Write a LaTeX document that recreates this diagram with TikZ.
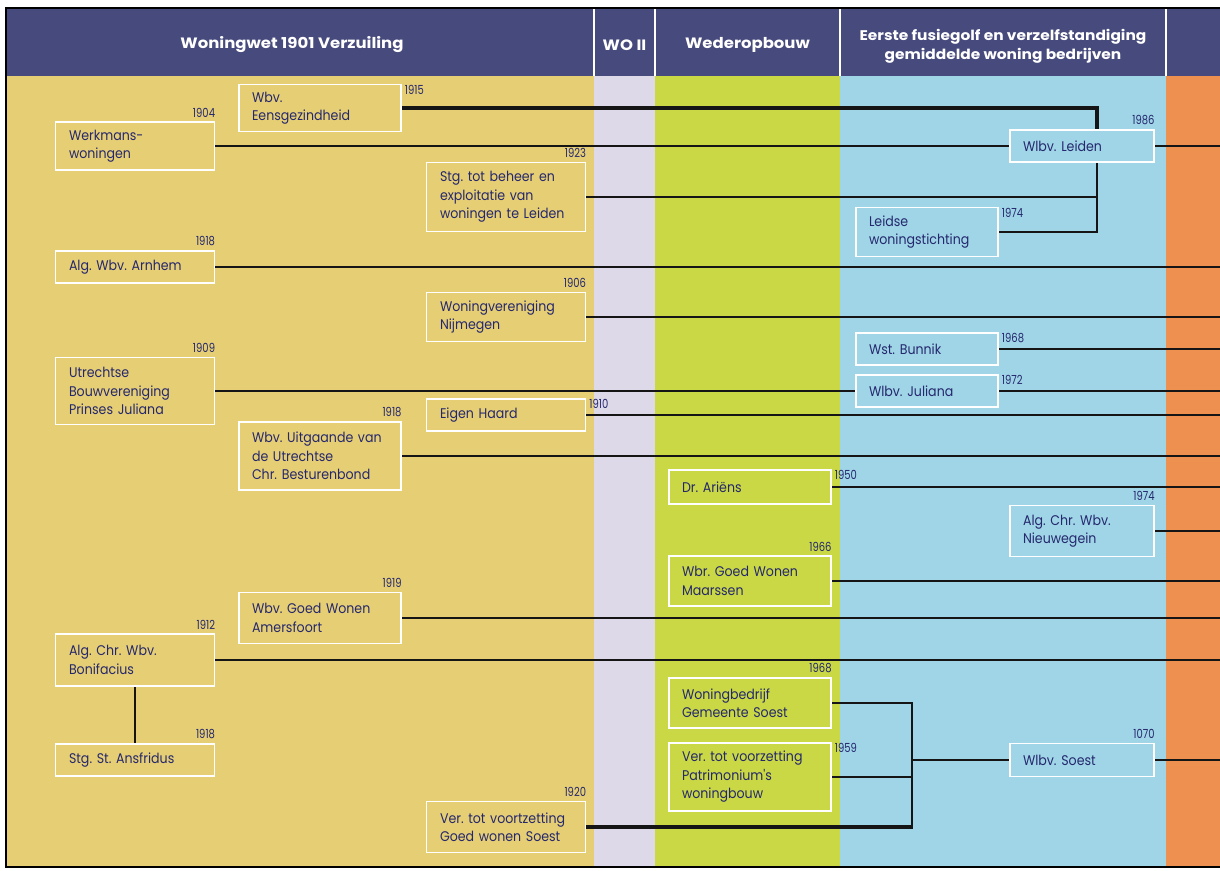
\documentclass[tikz,border=0pt]{standalone}
\usepackage{fontspec}
\setmainfont{Poppins}
\newfontfamily\yrfont{Poppins}[FakeStretch=0.8]
\newfontfamily\bxfont{Poppins}[FakeStretch=0.9]
\newfontfamily\hdfont{Poppins}[FakeStretch=1.1]
\frenchspacing
\definecolor{hdr}{HTML}{474A7C}
\definecolor{cyel}{HTML}{E6CE74}
\definecolor{clav}{HTML}{DDD9E9}
\definecolor{cgrn}{HTML}{C9D844}
\definecolor{cblu}{HTML}{9FD5E6}
\definecolor{corg}{HTML}{EE9050}
\definecolor{ink}{HTML}{25286E}
\definecolor{lnk}{HTML}{151515}
\pgfdeclarelayer{back}
\pgfdeclarelayer{mid}
\pgfsetlayers{back,mid,main}
\tikzset{
  box/.style={draw=white, line width=1.5pt, text=ink, align=left, inner xsep=0pt, inner ysep=0pt,
    font=\bxfont\frenchspacing\fontsize{14}{18.5}\selectfont},
  colA/.style={box, fill=cyel, minimum width=159pt, text width=132pt},
  colB/.style={box, fill=cyel, minimum width=162pt, text width=136pt},
  colC/.style={box, fill=cyel, minimum width=159pt, text width=132pt},
  colD/.style={box, fill=cgrn, minimum width=162pt, text width=136pt},
  colE/.style={box, fill=cblu, minimum width=142pt, text width=116pt},
  colF/.style={box, fill=cblu, minimum width=144pt, text width=118pt},
  yr/.style={text=ink, inner sep=0pt, font=\yrfont\fontsize{12.5}{12.5}\selectfont},
  yrabove/.style={yr, anchor=south east, yshift=4pt},
  yrright/.style={yr, anchor=north west, xshift=3pt, yshift=-1pt},
  hd/.style={text=white, align=center, font=\hdfont\bfseries\fontsize{15}{19}\selectfont},
  conn/.style={draw=lnk, line width=1.7pt},
  thickconn/.style={draw=lnk, line width=3.2pt},
}
\begin{document}
\begin{tikzpicture}[x=1pt,y=-1pt]
\useasboundingbox (0,0) rectangle (1220,870);
\begin{pgfonlayer}{back}
\fill[cyel] (6,76) rectangle (594,868);
\fill[clav] (594,76) rectangle (655,868);
\fill[cgrn] (655,76) rectangle (840,868);
\fill[cblu] (840,76) rectangle (1166,868);
\fill[corg] (1166,76) rectangle (1220,868);
\fill[hdr] (6,8) rectangle (1220,76);
\foreach \sx in {594,655,840,1166} \draw[white, line width=1.5pt] (\sx,8) -- (\sx,76);
\draw[black, line width=2pt] (1224,8) -- (6,8) -- (6,867) -- (1224,867);
\end{pgfonlayer}

% headers
\node[hd] (h1) at (292,45) {Woningwet 1901 Verzuiling};
\node[hd] (h2) at (624.5,45) {WO II};
\node[hd] (h3) at (747.5,45) {Wederopbouw};
\node[hd, font=\hdfont\bfseries\fontsize{14}{19}\selectfont] (h4) at (1003,46) {Eerste fusiegolf en verzelfstandiging\\gemiddelde woning bedrijven};

% reference coordinates
\coordinate (R) at (1220,0);
\coordinate (vx) at (1097,0);
\coordinate (sx) at (912,0);

% boxes
\node[colA, minimum height=48pt] (werk) at (135,146) {Werkmans-\\woningen};
\node[colB, minimum height=47pt] (eens) at (320,108) {Wbv.\\Eensgezindheid};
\node[colC, minimum height=69pt] (stg) at (506,197) {Stg. tot beheer en\\exploitatie van\\woningen te Leiden};
\node[colE, minimum height=49pt] (leidse) at (927,232) {Leidse\\woningstichting};
\node[colF, minimum height=32pt] (leiden) at (1082,146) {Wlbv. Leiden};
\node[colA, minimum height=32pt] (arnhem) at (135,267) {Alg. Wbv. Arnhem};
\node[colC, minimum height=49pt] (nijm) at (506,317) {Woningvereniging\\Nijmegen};
\node[colE, minimum height=32pt] (bunnik) at (927,349) {Wst. Bunnik};
\node[colA, minimum height=67pt] (utr) at (135,391) {Utrechtse\\Bouwvereniging\\Prinses Juliana};
\node[colE, minimum height=32pt] (jul) at (927,391) {Wlbv. Juliana};
\node[colC, minimum height=32pt] (eigen) at (506,415) {Eigen Haard};
\node[colB, minimum height=68pt] (uitg) at (320,456) {Wbv. Uitgaande van\\de Utrechtse\\Chr. Besturenbond};
\node[colD, minimum height=34pt] (arien) at (750,487) {Dr. Ariëns};
\node[colF, minimum height=51pt] (nieuw) at (1082,531) {Alg. Chr. Wbv.\\Nieuwegein};
\node[colD, minimum height=50pt] (maars) at (750,581) {Wbr. Goed Wonen\\Maarssen};
\node[colB, minimum height=51pt] (amers) at (320,618) {Wbv. Goed Wonen\\Amersfoort};
\node[colA, minimum height=52pt] (bonif) at (135,660) {Alg. Chr. Wbv.\\Bonifacius};
\node[colA, minimum height=32pt] (ansf) at (135,760) {Stg. St. Ansfridus};
\node[colD, minimum height=50pt] (wbedr) at (750,703) {Woningbedrijf\\Gemeente Soest};
\node[colD, minimum height=68pt] (patr) at (750,777) {Ver. tot voorzetting\\Patrimonium's\\woningbouw};
\node[colC, minimum height=51pt] (gws) at (506,827) {Ver. tot voortzetting\\Goed wonen Soest};
\node[colF, minimum height=33pt] (soest) at (1082,760) {Wlbv. Soest};

% years
\node[yrabove] (y-werk) at (werk.north east) {1904};
\node[yrright] (y-eens) at (eens.north east) {1915};
\node[yrabove] (y-stg) at (stg.north east) {1923};
\node[yrright] (y-leidse) at (leidse.north east) {1974};
\node[yrabove] (y-leiden) at (leiden.north east) {1986};
\node[yrabove] (y-arnhem) at (arnhem.north east) {1918};
\node[yrabove] (y-nijm) at (nijm.north east) {1906};
\node[yrright] (y-bunnik) at (bunnik.north east) {1968};
\node[yrabove] (y-utr) at (utr.north east) {1909};
\node[yrright] (y-jul) at (jul.north east) {1972};
\node[yrright] (y-eigen) at (eigen.north east) {1910};
\node[yrabove] (y-uitg) at (uitg.north east) {1918};
\node[yrright] (y-arien) at (arien.north east) {1950};
\node[yrabove] (y-nieuw) at (nieuw.north east) {1974};
\node[yrabove] (y-maars) at (maars.north east) {1966};
\node[yrabove] (y-amers) at (amers.north east) {1919};
\node[yrabove] (y-bonif) at (bonif.north east) {1912};
\node[yrabove] (y-ansf) at (ansf.north east) {1918};
\node[yrabove] (y-wbedr) at (wbedr.north east) {1968};
\node[yrright] (y-patr) at (patr.north east) {1959};
\node[yrabove] (y-gws) at (gws.north east) {1920};
\node[yrabove] (y-soest) at (soest.north east) {1070};

% connectors
\begin{pgfonlayer}{mid}
\draw[thickconn] (eens.east) -| (vx |- leiden.north);
\draw[conn] (leidse.east) -| (vx |- leiden.south);
\draw[conn] (stg.east) -- (stg.east -| vx);
\draw[conn] (werk.east) -- (werk.east -| leiden.west);
\draw[conn] (leiden.east) -- (leiden.east -| R);
\draw[conn] (arnhem.east) -- (arnhem.east -| R);
\draw[conn] (nijm.east) -- (nijm.east -| R);
\draw[conn] (bunnik.east) -- (bunnik.east -| R);
\draw[conn] (utr.east) -- (utr.east -| jul.west);
\draw[conn] (jul.east) -- (jul.east -| R);
\draw[conn] (eigen.east) -- (eigen.east -| R);
\draw[conn] (uitg.east) -- (uitg.east -| R);
\draw[conn] (arien.east) -- (arien.east -| R);
\draw[conn] (nieuw.east) -- (nieuw.east -| R);
\draw[conn] (maars.east) -- (maars.east -| R);
\draw[conn] (amers.east) -- (amers.east -| R);
\draw[conn] (bonif.east) -- (bonif.east -| R);
\draw[conn] (bonif.south) -- (ansf.north);
\draw[conn] (wbedr.east) -| (sx |- gws.east);
\draw[conn] (patr.east) -- (patr.east -| sx);
\draw[thickconn] (gws.east) -- ([xshift=0.8pt]gws.east -| sx);
\draw[conn] (sx |- soest.west) -- (soest.west);
\draw[conn] (soest.east) -- (soest.east -| R);
\end{pgfonlayer}
\end{tikzpicture}
\end{document}
